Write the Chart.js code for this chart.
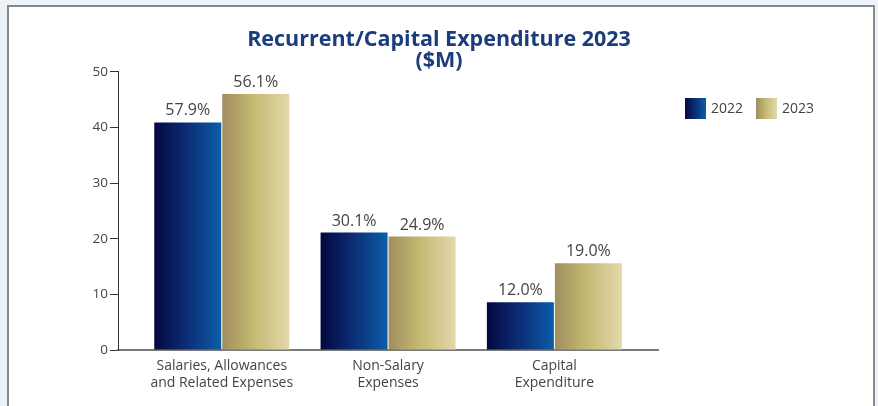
<!DOCTYPE html>
<html>
<head>
<meta charset="utf-8">
<title>Recurrent/Capital Expenditure 2023</title>
<script src="https://cdn.jsdelivr.net/npm/chart.js"></script>
<style>
  html, body { margin: 0; padding: 0; background: #edf3f9; overflow: hidden; }
  #panel { position: absolute; left: 7px; top: 5px; width: 864px; height: 420px;
           background: #fff; border: 2px solid #888; }
  #chart { position: absolute; left: 0; top: 0; }
</style>
</head>
<body>
<div id="panel"></div>
<canvas id="chart" width="878" height="406"></canvas>
<script>
    // chart data
    const categories = [
      ['Salaries, Allowances', 'and Related Expenses'],
      ['Non-Salary', 'Expenses'],
      ['Capital', 'Expenditure']
    ];
    const years = ['2022', '2023'];
    const values2022 = [40.9, 21.1, 8.6];
    const values2023 = [46.0, 20.4, 15.6];
    const share2022 = ['57.9%', '30.1%', '12.0%'];
    const share2023 = ['56.1%', '24.9%', '19.0%'];
    const yTicks = [0, 10, 20, 30, 40, 50];

    const CAT_PCT = 0.818;
    const stops2022 = [[0, '#04073f'], [0.45, '#0c2a72'], [1, '#0b5eaa']];
    const stops2023 = [[0, '#9f8d5e'], [0.45, '#c3b872'], [1, '#e4d8ab']];

    function makeGradient(c, x0, x1, stops) {
      const g = c.createLinearGradient(x0, 0, x1, 0);
      stops.forEach(s => g.addColorStop(s[0], s[1]));
      return g;
    }

    // one horizontal gradient per bar, spanning its own width
    function barFill(ctx, stops) {
      const chart = ctx.chart;
      const xs = chart.scales.x;
      if (!xs || ctx.type !== 'data') return stops[1][1];
      const center = xs.getPixelForValue(ctx.dataIndex);
      const step = xs.getPixelForValue(1) - xs.getPixelForValue(0);
      if (!isFinite(center) || !isFinite(step)) return stops[1][1];
      const half = step * CAT_PCT / 2;
      const x0 = ctx.datasetIndex === 0 ? center - half : center;
      return makeGradient(chart.ctx, x0, x0 + half, stops);
    }

    const shareLabels = {
      id: 'shareLabels',
      afterDatasetsDraw(chart) {
        const c = chart.ctx;
        c.save();
        c.font = '16px "Open Sans"';
        c.fillStyle = '#444';
        c.textAlign = 'center';
        c.textBaseline = 'alphabetic';
        [share2022, share2023].forEach((shares, di) => {
          chart.getDatasetMeta(di).data.forEach((bar, i) => {
            c.fillText(shares[i], bar.x, bar.y - 7);
          });
        });
        c.restore();
      }
    };

    const sideLegend = {
      id: 'sideLegend',
      afterDraw(chart) {
        const c = chart.ctx;
        const items = [[685, stops2022], [756, stops2023]];
        c.save();
        c.font = '14px "Open Sans"';
        c.textBaseline = 'middle';
        items.forEach((it, i) => {
          const x = it[0];
          c.fillStyle = makeGradient(c, x, x + 21, it[1]);
          c.fillRect(x, 98, 21, 21);
          c.fillStyle = '#444';
          c.fillText(years[i], x + 26, 109);
        });
        c.restore();
      }
    };

    const ctx = document.getElementById('chart').getContext('2d');
    const chart = new Chart(ctx, {
      type: 'bar',
      data: {
        datasets: [{
          label: years[0],
          data: values2022.map((v, i) => ({ x: i, y: v })),
          backgroundColor: c => barFill(c, stops2022)
        }, {
          label: years[1],
          data: values2023.map((v, i) => ({ x: i, y: v })),
          backgroundColor: c => barFill(c, stops2023)
        }]
      },
      options: {
        responsive: false,
        animation: false,
        categoryPercentage: CAT_PCT,
        barPercentage: 0.985,
        layout: { padding: 0 },
        plugins: {
          legend: { display: false },
          tooltip: { enabled: false },
          title: {
            display: true,
            text: ['Recurrent/Capital Expenditure 2023', '($M)'],
            color: '#1b3d7c',
            font: { family: '"Open Sans"', size: 21.5, weight: 'bold', lineHeight: 0.95 },
            padding: { top: 30, bottom: 1 }
          }
        },
        scales: {
          x: {
            type: 'linear',
            offset: false,
            min: -0.624,
            max: 2.623,
            afterBuildTicks: s => { s.ticks = categories.map((c, i) => ({ value: i })); },
            afterFit: s => { s.height = 56; },
            grid: { display: false, drawTicks: false, offset: false },
            border: { color: '#7a7a7a', width: 2 },
            ticks: {
              callback: v => categories[v] || '',
              color: '#444',
              padding: 8,
              maxRotation: 0,
              autoSkip: false,
              font: { family: '"Open Sans"', size: 14, lineHeight: 1.2 }
            }
          },
          y: {
            min: 0,
            max: 50,
            afterBuildTicks: s => { s.ticks = yTicks.map(v => ({ value: v })); },
            afterFit: s => { s.width = 118; },
            grid: { drawOnChartArea: false, drawTicks: true, tickLength: 8, color: '#333' },
            border: { color: '#333', width: 1 },
            ticks: {
              color: '#444',
              padding: 2,
              font: { family: '"Open Sans"', size: 13.5 }
            }
          },
          // empty right-hand axis that reserves the space used by the legend
          side: {
            position: 'right',
            display: true,
            afterFit: s => { s.width = 220; },
            grid: { display: false },
            border: { display: false },
            ticks: { display: false }
          }
        }
      },
      plugins: [shareLabels, sideLegend]
    });
</script>
</body>
</html>
